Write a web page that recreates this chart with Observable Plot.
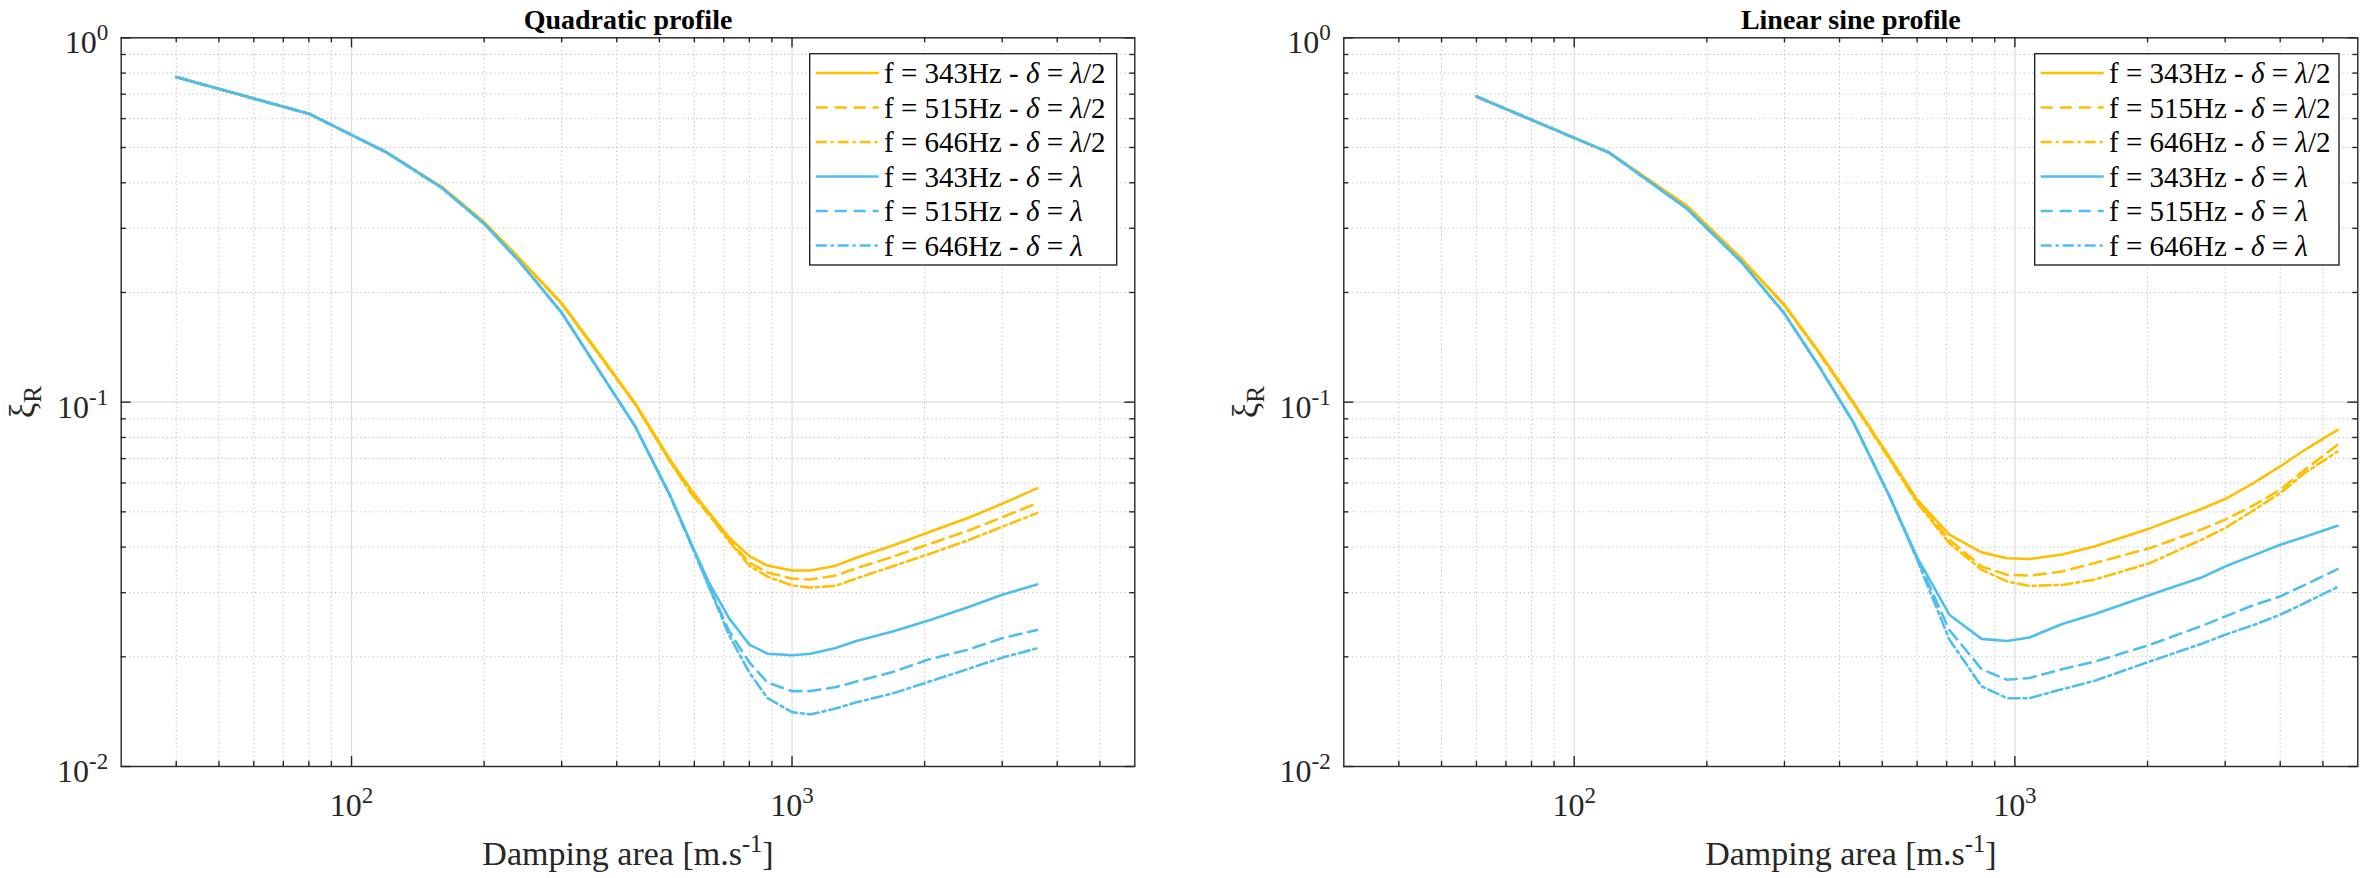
<!DOCTYPE html>
<html><head><meta charset="utf-8">
<script src="https://cdn.jsdelivr.net/npm/d3@7"></script>
<script src="https://cdn.jsdelivr.net/npm/@observablehq/plot@0.6"></script>
<style>
html,body{margin:0;padding:0;background:#fff;}
#wrap{position:relative;width:2361px;height:878px;overflow:hidden;font-family:"Liberation Serif","Times New Roman",serif;}
.panel{position:absolute;top:0;height:878px;}
.panel svg{max-width:none !important;}
.legend{position:absolute;top:53.3px;height:212.7px;}
</style></head><body><div id="wrap"></div>
<script>
// ---------- data ----------
const quadX = [40, 80, 120, 160, 200, 240, 300, 360, 440, 530, 590, 650, 720, 800, 880, 1000, 1100, 1250, 1400, 1700, 2050, 2500, 3000, 3600];
const quad343Half = [.780,.619,.485,.390,.312,.249,.187,.139,.0995,.0692,.0575,.0495,.0425,.0378,.0356,.0345,.0345,.0355,.0374,.0405,.0440,.0480,.0526,.0580];
const quad515Half = [.780,.619,.485,.390,.312,.249,.186,.138,.0990,.0685,.0565,.0490,.0418,.0363,.0341,.0328,.0326,.0334,.0350,.0377,.0408,.0443,.0483,.0528];
const quad646Half = [.780,.619,.485,.390,.311,.248,.186,.138,.0988,.0683,.0562,.0488,.0415,.0356,.0332,.0314,.0310,.0313,.0328,.0355,.0383,.0417,.0455,.0496];
const quad343Full = [.780,.619,.485,.388,.309,.244,.176,.125,.0860,.0552,.0410,.0317,.0255,.0216,.0204,.0202,.0204,.0211,.0221,.0235,.0252,.0273,.0296,.0316];
const quad515Full = [.780,.619,.485,.388,.309,.244,.176,.125,.0860,.0550,.0408,.0310,.0235,.0193,.0170,.0161,.0161,.0165,.0171,.0182,.0197,.0209,.0225,.0237];
const quad646Full = [.780,.619,.485,.388,.309,.244,.176,.125,.0860,.0549,.0406,.0308,.0229,.0181,.0154,.0141,.0139,.0144,.0150,.0159,.0171,.0185,.0199,.0211];

const sineX = [60, 120, 180, 240, 300, 360, 430, 520, 600, 710, 840, 960, 1080, 1280, 1520, 2030, 2650, 3000, 3500, 4000, 4550, 5400];
const sine343Half = [.690,.484,.346,.247,.185,.137,.100,.0705,.0540,.0433,.0387,.0373,.0371,.0382,.0402,.0451,.0509,.0542,.0602,.0666,.0740,.0839];
const sine515Half = [.690,.484,.346,.247,.184,.136,.0995,.0700,.0535,.0419,.0354,.0336,.0334,.0343,.0362,.0398,.0447,.0476,.0523,.0575,.0652,.0764];
const sine646Half = [.690,.484,.346,.247,.184,.136,.0990,.0695,.0530,.0410,.0347,.0322,.0313,.0315,.0326,.0362,.0419,.0451,.0507,.0563,.0639,.0732];
const sine343Full = [.690,.484,.340,.242,.175,.125,.0880,.0550,.0375,.0261,.0224,.0221,.0226,.0246,.0262,.0296,.0330,.0354,.0381,.0406,.0427,.0458];
const sine515Full = [.690,.484,.340,.242,.175,.125,.0880,.0550,.0372,.0237,.0185,.0173,.0175,.0185,.0194,.0216,.0243,.0258,.0278,.0293,.0315,.0348];
const sine646Full = [.690,.484,.340,.242,.175,.125,.0880,.0549,.0370,.0223,.0166,.0154,.0154,.0163,.0172,.01945,.0217,.0230,.0245,.0261,.0281,.0311];

const frequencies = ["343", "515", "646"];
const deltas = ["λ/2", "λ"];
const titles = ["Quadratic profile", "Linear sine profile"];
const xLabel = "Damping area [m.s^{-1}]";
const yLabel = "ξ_{R}";

const xMajor = [100, 1000];
const xMajorLabels = ["10^{2}", "10^{3}"];
const xMinor = [40,50,60,70,80,90,200,300,400,500,600,700,800,900,2000,3000,4000,5000];
const yMajor = [0.01, 0.1, 1];
const yMajorLabels = ["10^{-2}", "10^{-1}", "10^{0}"];
const yMinor = [0.02,0.03,0.04,0.05,0.06,0.07,0.08,0.09,0.2,0.3,0.4,0.5,0.6,0.7,0.8,0.9];

// ---------- styles ----------
const YELLOW = "#FFBF00", BLUE = "#4DBEEE", AXIS = "#262626";
const styles = [
  {color: YELLOW, dash: null}, {color: YELLOW, dash: "12,7"}, {color: YELLOW, dash: "11,4,3,4"},
  {color: BLUE, dash: null}, {color: BLUE, dash: "12,7"}, {color: BLUE, dash: "11,4,3,4"}
];

const panels = [
  {title: titles[0], xs: quadX, series: [quad343Half, quad515Half, quad646Half, quad343Full, quad515Full, quad646Full],
   left: 0, width: 1180, ml: 120.7, mr: 45.7, legendLeft: 809.3, legendWidth: 308.4},
  {title: titles[1], xs: sineX, series: [sine343Half, sine515Half, sine646Half, sine343Full, sine515Full, sine646Full],
   left: 1180, width: 1181, ml: 163.3, mr: 3.7, legendLeft: 2034.3, legendWidth: 305.7}
];

const MT = 37.3, MB = 878 - 766, H = 878;
const plotH = H - MT - MB;

function richify(svg) {
  d3.select(svg).selectAll("text").each(function() {
    const t = this.textContent;
    if (!/[\^_]\{/.test(t)) return;
    const parts = []; const re = /([\^_])\{([^}]*)\}/g; let last = 0, m;
    while ((m = re.exec(t))) {
      if (m.index > last) parts.push({s: t.slice(last, m.index)});
      parts.push({s: m[2], k: m[1]}); last = re.lastIndex;
    }
    if (last < t.length) parts.push({s: t.slice(last)});
    while (this.firstChild) this.removeChild(this.firstChild);
    let shift = 0;
    for (const p of parts) {
      const ts = document.createElementNS("http://www.w3.org/2000/svg", "tspan");
      ts.textContent = p.s;
      const target = p.k === "^" ? -13 : p.k === "_" ? 7 : 0;
      if (target !== shift) { ts.setAttribute("dy", target - shift); shift = target; }
      if (p.k) ts.setAttribute("font-size", "0.72em");
      this.appendChild(ts);
    }
  });
}

const wrap = document.getElementById("wrap");

panels.forEach(p => {
  const marks = [
    Plot.ruleX(xMinor, {x: d => d, stroke: "#b8b8b8", strokeWidth: 1, strokeDasharray: "1.2,3"}),
    Plot.ruleY(yMinor, {y: d => d, stroke: "#b8b8b8", strokeWidth: 1, strokeDasharray: "1.2,3"}),
    Plot.ruleX(xMajor, {x: d => d, stroke: "#dcdcdc", strokeWidth: 1.2}),
    Plot.ruleY(yMajor, {y: d => d, stroke: "#dcdcdc", strokeWidth: 1.2}),
  ];
  p.series.forEach((vals, i) => {
    marks.push(Plot.line(p.xs, {x: d => d, y: (d, j) => vals[j], stroke: styles[i].color, strokeWidth: 2.6,
      strokeDasharray: styles[i].dash, strokeLinejoin: "round", curve: "linear"}));
  });
  marks.push(Plot.frame({stroke: AXIS, strokeWidth: 1.4}));
  const tk = {stroke: AXIS, strokeWidth: 1.4};
  const pw = p.width - p.ml - p.mr;
  marks.push(
    Plot.ruleX(xMajor, {x: d => d, insetTop: plotH - 10, ...tk}),
    Plot.ruleX(xMajor, {x: d => d, insetBottom: plotH - 10, ...tk}),
    Plot.ruleX(xMinor, {x: d => d, insetTop: plotH - 5, ...tk}),
    Plot.ruleX(xMinor, {x: d => d, insetBottom: plotH - 5, ...tk}),
    Plot.ruleY(yMajor, {y: d => d, insetRight: pw - 10, ...tk}),
    Plot.ruleY(yMajor, {y: d => d, insetLeft: pw - 10, ...tk}),
    Plot.ruleY(yMinor, {y: d => d, insetRight: pw - 5, ...tk}),
    Plot.ruleY(yMinor, {y: d => d, insetLeft: pw - 5, ...tk})
  );
  marks.push(
    Plot.text(xMajor, {x: d => d, text: (d, i) => xMajorLabels[i], frameAnchor: "bottom", dy: 49,
      lineAnchor: "bottom", textAnchor: "middle", fontSize: 32, fill: AXIS}),
    Plot.text(yMajor, {y: d => d, text: (d, i) => yMajorLabels[i], frameAnchor: "left", dx: -13, dy: 15.5,
      lineAnchor: "bottom", textAnchor: "end", fontSize: 32, fill: AXIS}),
    Plot.text([xLabel], {text: d => d, frameAnchor: "bottom", dy: 98, lineAnchor: "bottom",
      textAnchor: "middle", fontSize: 34, fill: AXIS}),
    Plot.text([yLabel], {text: d => d, frameAnchor: "left", dx: -98, rotate: -90,
      lineAnchor: "middle", textAnchor: "middle", fontSize: 35, fill: AXIS}),
    Plot.text([p.title], {text: d => d, frameAnchor: "top", dy: -9, lineAnchor: "bottom",
      textAnchor: "middle", fontSize: 28, fontWeight: "bold", fill: "#000"})
  );

  const svg = Plot.plot({
    width: p.width, height: H,
    marginTop: MT, marginBottom: MB, marginLeft: p.ml, marginRight: p.mr,
    x: {type: "log", domain: [30, 6000], axis: null},
    y: {type: "log", domain: [0.01, 1], axis: null},
    style: {fontFamily: '"Liberation Serif", "Times New Roman", serif', background: "transparent", overflow: "visible"},
    marks
  });
  richify(svg);
  const div = document.createElement("div");
  div.className = "panel";
  div.style.left = p.left + "px";
  div.style.width = p.width + "px";
  div.appendChild(svg);
  wrap.appendChild(div);

  // legend (inside the axes, top-right)
  const lw = p.legendWidth, lh = 212.7;
  const lg = d3.create("svg").attr("width", lw).attr("height", lh)
    .attr("class", "legend").style("left", p.legendLeft + "px")
    .style("font-family", '"Liberation Serif", "Times New Roman", serif');
  lg.append("rect").attr("x", 0.7).attr("y", 0.7).attr("width", lw - 1.4).attr("height", lh - 1.4)
    .attr("fill", "#fff").attr("stroke", AXIS).attr("stroke-width", 1.4);
  const entries = [];
  deltas.forEach(dl => frequencies.forEach(f => entries.push({f, dl})));
  entries.forEach((e, i) => {
    const cy = 20 + i * 34.5;
    lg.append("line").attr("x1", 6.7).attr("x2", 69.7).attr("y1", cy).attr("y2", cy)
      .attr("stroke", styles[i].color).attr("stroke-width", 2.6)
      .attr("stroke-dasharray", styles[i].dash);
    const t = lg.append("text").attr("x", 75).attr("y", cy + 10).attr("font-size", 29).attr("fill", "#000");
    t.append("tspan").text(`f = ${e.f}Hz - `);
    t.append("tspan").attr("font-style", "italic").text("δ");
    t.append("tspan").text(" = ");
    t.append("tspan").attr("font-style", "italic").text("λ");
    if (e.dl !== "λ") t.append("tspan").text(e.dl.slice(1));
  });
  wrap.appendChild(lg.node());
});
</script></body></html>
